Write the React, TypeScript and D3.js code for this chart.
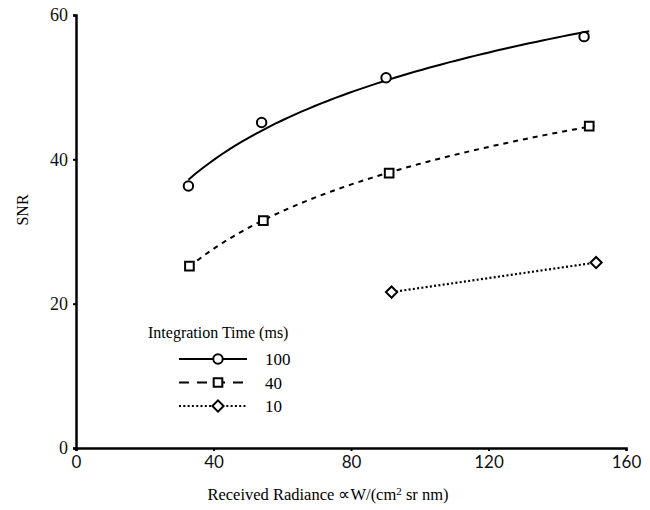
import React, { useEffect, useRef } from "react";
import * as d3 from "d3";

// radiance values (x) and SNR (y) per integration time
const radiance100 = [32.7, 54.0, 90.2, 147.8];
const snr100 = [36.3, 45.1, 51.3, 57.0];
const radiance40 = [33.0, 54.5, 91.1, 149.3];
const snr40 = [25.2, 31.5, 38.1, 44.6];
const radiance10 = [91.8, 151.3];
const snr10 = [21.6, 25.7];

const xTicks = [0, 40, 80, 120, 160];
const yTicks = [0, 20, 40, 60];
const seriesNames = ["100", "40", "10"];

// least squares y = a + b ln(x), like a spreadsheet log trendline
function logFit(xs: number[], ys: number[]) {
  const lx = xs.map((v) => Math.log(v));
  const mx = d3.mean(lx) as number;
  const my = d3.mean(ys) as number;
  let sxy = 0;
  let sxx = 0;
  lx.forEach((v, i) => {
    sxy += (v - mx) * (ys[i] - my);
    sxx += (v - mx) * (v - mx);
  });
  const b = sxy / sxx;
  const a = my - b * mx;
  return (x: number) => a + b * Math.log(x);
}

function App() {
  const svgRef = useRef<SVGSVGElement>(null);

  useEffect(() => {
    const width = 650;
    const height = 510;
    const serif = "'Liberation Serif', 'Times New Roman', serif";
    const sans = "Lato, 'Open Sans', sans-serif";

    d3.select(svgRef.current).selectAll("*").remove();
    const svg = d3
      .select(svgRef.current)
      .attr("width", width)
      .attr("height", height);

    const x = d3.scaleLinear().domain([0, 160]).range([76, 626]);
    const y = d3.scaleLinear().domain([0, 60]).range([448, 15]);

    // axes
    const xAxis = svg
      .append("g")
      .attr("transform", `translate(0,${y(0)})`)
      .call(d3.axisBottom(x).tickValues(xTicks).tickSize(3).tickPadding(5));
    xAxis.select(".domain").attr("stroke-width", 2.5);
    xAxis.selectAll(".tick line").attr("stroke-width", 2);
    xAxis
      .selectAll(".tick text")
      .style("font-family", sans)
      .style("font-size", "17px")
      .attr("fill", "#111");

    const yAxis = svg
      .append("g")
      .attr("transform", `translate(${x(0)},0)`)
      .call(d3.axisLeft(y).tickValues(yTicks).tickSize(3).tickPadding(5));
    yAxis.select(".domain").attr("stroke-width", 2.5);
    yAxis.selectAll(".tick line").attr("stroke-width", 2);
    yAxis
      .selectAll(".tick text")
      .style("font-family", serif)
      .style("font-size", "18px")
      .attr("fill", "#111");

    // trend curves
    const curve = (xs: number[], ys: number[]) => {
      const f = logFit(xs, ys);
      const x0 = d3.min(xs) as number;
      const x1 = (d3.max(xs) as number) + 1.5;
      const pts = d3.range(0, 61).map((i) => x0 + ((x1 - x0) * i) / 60);
      return d3
        .line<number>()
        .x((d) => x(d))
        .y((d) => y(f(d)))(pts);
    };

    svg
      .append("path")
      .attr("d", curve(radiance100, snr100))
      .attr("fill", "none")
      .attr("stroke", "#000")
      .attr("stroke-width", 2);

    svg
      .append("path")
      .attr("d", curve(radiance40, snr40))
      .attr("fill", "none")
      .attr("stroke", "#000")
      .attr("stroke-width", 2)
      .attr("stroke-dasharray", "5,5");

    svg
      .append("path")
      .datum(radiance10.map((d, i) => [d, snr10[i]] as [number, number]))
      .attr(
        "d",
        d3
          .line<[number, number]>()
          .x((d) => x(d[0]))
          .y((d) => y(d[1]))
      )
      .attr("fill", "none")
      .attr("stroke", "#000")
      .attr("stroke-width", 2.2)
      .attr("stroke-dasharray", "2,2.3");

    // markers
    const circleSym = d3.symbol(d3.symbolCircle, 70);
    const squareSym = d3.symbol(d3.symbolSquare, 75);
    const diamondSym = d3.symbol(d3.symbolDiamond2, 80);

    const drawMarkers = (xs: number[], ys: number[], sym: any) => {
      svg
        .append("g")
        .selectAll("path")
        .data(xs)
        .enter()
        .append("path")
        .attr("transform", (d, i) => `translate(${x(d)},${y(ys[i])})`)
        .attr("d", sym)
        .attr("fill", "#fff")
        .attr("stroke", "#000")
        .attr("stroke-width", 2);
    };
    drawMarkers(radiance100, snr100, circleSym);
    drawMarkers(radiance40, snr40, squareSym);
    drawMarkers(radiance10, snr10, diamondSym);

    // legend
    const legend = svg.append("g");
    legend
      .append("text")
      .attr("x", 148)
      .attr("y", 338)
      .style("font-family", serif)
      .style("font-size", "16px")
      .text("Integration Time (ms)");

    const dashes = [null, "10,8", "2,2.3"];
    const syms = [circleSym, squareSym, diamondSym];
    seriesNames.forEach((name, i) => {
      const ly = 359 + i * 23.5;
      const l = legend.append("line")
        .attr("x1", 179)
        .attr("x2", 247)
        .attr("y1", ly)
        .attr("y2", ly)
        .attr("stroke", "#000")
        .attr("stroke-width", 2);
      if (dashes[i]) l.attr("stroke-dasharray", dashes[i] as string);
      legend
        .append("path")
        .attr("transform", `translate(218,${ly})`)
        .attr("d", syms[i])
        .attr("fill", "#fff")
        .attr("stroke", "#000")
        .attr("stroke-width", 2);
      legend
        .append("text")
        .attr("x", 265)
        .attr("y", ly + 6)
        .style("font-family", serif)
        .style("font-size", "17px")
        .text(name);
    });

    // axis titles
    const xt = svg
      .append("text")
      .attr("x", 328)
      .attr("y", 500)
      .attr("text-anchor", "middle")
      .style("font-family", serif)
      .style("font-size", "16.5px");
    xt.append("tspan").text("Received Radiance \u221dW/(cm");
    xt.append("tspan").attr("dy", -5).style("font-size", "11px").text("2");
    xt.append("tspan").attr("dy", 5).text(" sr nm)");

    svg
      .append("text")
      .attr("transform", "rotate(-90)")
      .attr("x", -210)
      .attr("y", 28)
      .attr("text-anchor", "middle")
      .style("font-family", serif)
      .style("font-size", "16px")
      .text("SNR");
  }, []);

  return (
    <svg
      ref={svgRef}
      style={{ position: "absolute", left: 0, top: 0, background: "#fff" }}
    ></svg>
  );
}

export default App;
